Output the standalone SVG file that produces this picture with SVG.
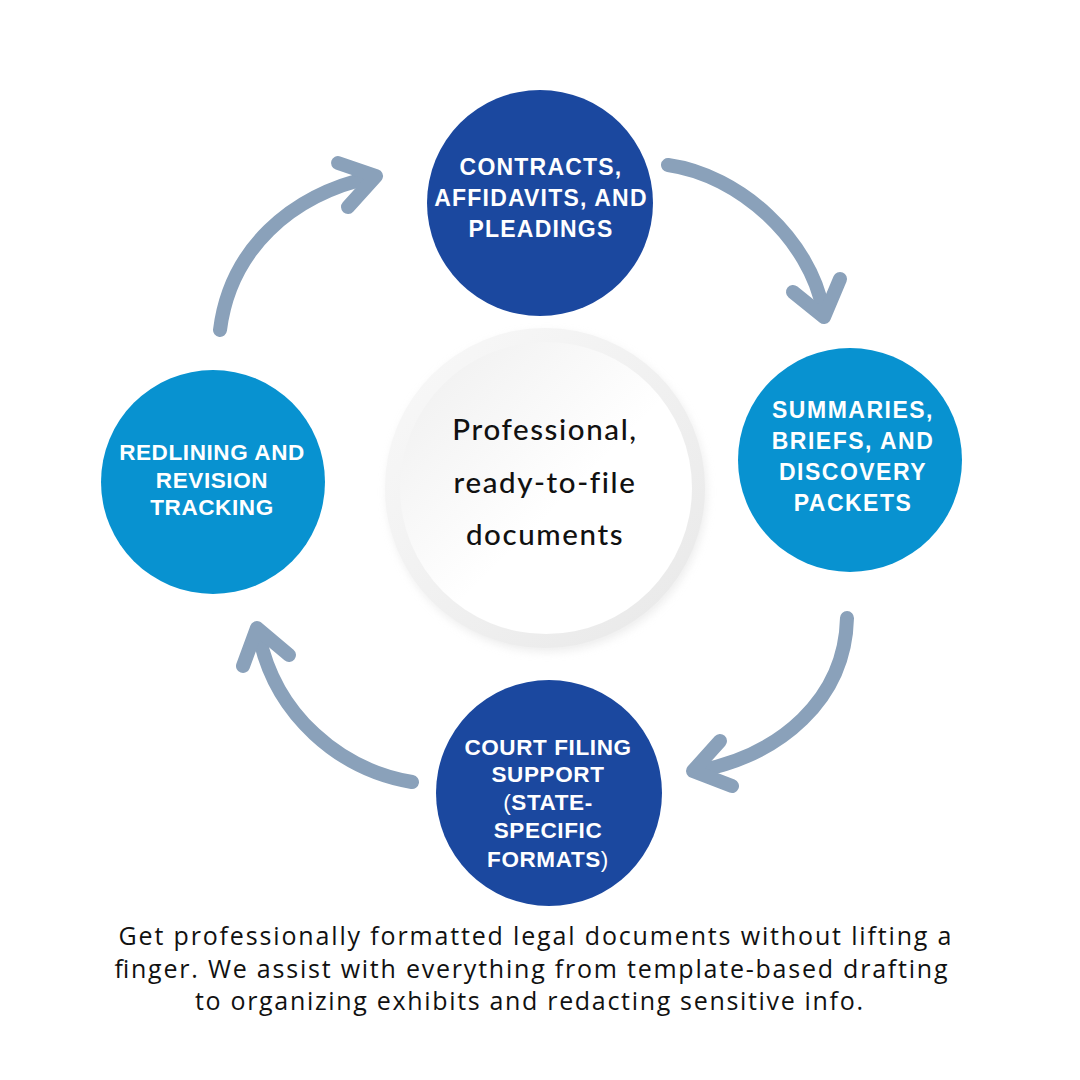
<svg xmlns="http://www.w3.org/2000/svg" width="1080" height="1080" viewBox="0 0 1080 1080">
<defs>
<style>
.arrow{fill:none;stroke:#8aa1ba;stroke-width:14;stroke-linecap:round;stroke-linejoin:round}
.lbl{fill:#ffffff;font-family:"Liberation Sans",Arial,sans-serif;font-weight:700;text-anchor:middle}
.top{font-size:23px;letter-spacing:1.2px}
.side{font-size:22.5px;letter-spacing:0.6px}
.wide{font-size:23px;letter-spacing:1.5px}
.mid{font-family:Lato,"Noto Sans",sans-serif;font-size:29.5px;font-weight:500;letter-spacing:1.6px;fill:#111111;text-anchor:middle}
.foot{font-family:"Open Sans","Liberation Sans",sans-serif;font-size:25px;fill:#111111;text-anchor:middle}
.dark{fill:#1b489f}
.light{fill:#0892d0}
</style>
<linearGradient id="ring" x1="0" y1="0" x2="1" y2="1">
<stop offset="0" stop-color="#f9f9f9"/>
<stop offset="1" stop-color="#e8e8e8"/>
</linearGradient>
<linearGradient id="face" x1="0" y1="0" x2="1" y2="1">
<stop offset="0" stop-color="#eeeeee"/>
<stop offset="0.55" stop-color="#ffffff"/>
<stop offset="1" stop-color="#ffffff"/>
</linearGradient>
<filter id="sh" x="-20%" y="-20%" width="140%" height="140%">
<feGaussianBlur stdDeviation="4"/>
</filter>
</defs>
<rect width="1080" height="1080" fill="#ffffff"/>

<g id="connectors">
<path class="arrow" d="M220,330 C230,250 290,195 372,177"/>
<polyline class="arrow" points="338,163 376,176 348,207"/>
<path class="arrow" d="M668,165 C740,175 810,240 823,310"/>
<polyline class="arrow" points="793,292 824,317 840,279"/>
<path class="arrow" d="M847,618 C845,700 780,755 698,771"/>
<polyline class="arrow" points="720,741 693,771 732,786"/>
<path class="arrow" d="M412,782 C340,770 275,715 259,635"/>
<polyline class="arrow" points="243,666 257,628 289,655"/>
</g>

<g id="center">
<circle cx="547" cy="492" r="160" fill="#dddddd" filter="url(#sh)" opacity="0.5"/>
<circle cx="545" cy="488" r="160" fill="url(#ring)"/>
<circle cx="546" cy="488" r="146" fill="url(#face)"/>
<text class="mid" x="545" y="440">Professional,</text>
<text class="mid" x="545" y="493">ready-to-file</text>
<text class="mid" x="545" y="545">documents</text>
</g>

<g id="node-contracts">
<circle class="dark" cx="540" cy="203" r="113"/>
<text class="lbl top" x="541" y="175">CONTRACTS,</text>
<text class="lbl top" x="541" y="206">AFFIDAVITS, AND</text>
<text class="lbl top" x="541" y="237">PLEADINGS</text>
</g>

<g id="node-summaries">
<circle class="light" cx="850" cy="460" r="112"/>
<text class="lbl wide" x="853" y="418">SUMMARIES,</text>
<text class="lbl wide" x="853" y="449">BRIEFS, AND</text>
<text class="lbl wide" x="853" y="480">DISCOVERY</text>
<text class="lbl wide" x="853" y="511">PACKETS</text>
</g>

<g id="node-court">
<circle class="dark" cx="549" cy="793" r="113"/>
<text class="lbl side" x="548" y="755">COURT FILING</text>
<text class="lbl side" x="548" y="782">SUPPORT</text>
<text class="lbl side" x="548" y="810"><tspan font-weight="400">(</tspan>STATE-</text>
<text class="lbl side" x="548" y="838">SPECIFIC</text>
<text class="lbl side" x="548" y="867">FORMATS<tspan font-weight="400">)</tspan></text>
</g>

<g id="node-redlining">
<circle class="light" cx="213" cy="482" r="112"/>
<text class="lbl side" x="212" y="460">REDLINING AND</text>
<text class="lbl side" x="212" y="488">REVISION</text>
<text class="lbl side" x="212" y="515">TRACKING</text>
</g>

<g id="caption">
<text class="foot" x="535" y="945" textLength="833" lengthAdjust="spacing">Get professionally formatted legal documents without lifting a</text>
<text class="foot" x="531" y="978" textLength="833" lengthAdjust="spacing">finger. We assist with everything from template-based drafting</text>
<text class="foot" x="529" y="1010" textLength="668" lengthAdjust="spacing">to organizing exhibits and redacting sensitive info.</text>
</g>
</svg>
